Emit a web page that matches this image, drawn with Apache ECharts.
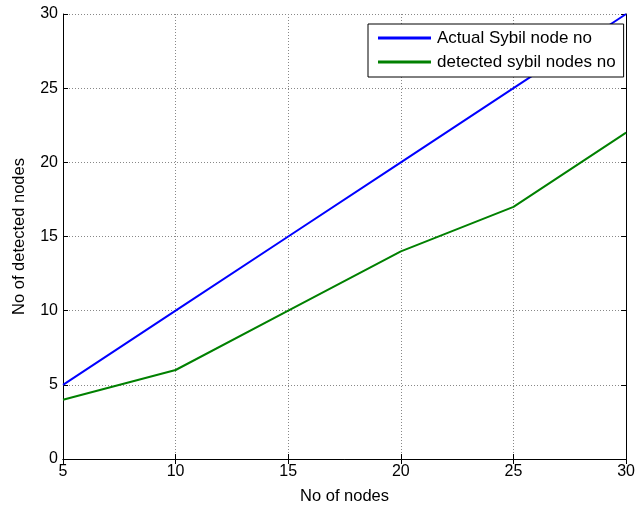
<!DOCTYPE html>
<html><head><meta charset="utf-8">
<script src="https://cdn.jsdelivr.net/npm/echarts@6/dist/echarts.min.js"></script>
<style>html,body{margin:0;padding:0;background:#fff}#c{width:638px;height:510px}</style>
</head><body><div id="c"></div>
<script>
const xValues = [5, 10, 15, 20, 25, 30];
const actualSybil = [5, 10, 15, 20, 25, 30];
const detectedSybil = [4, 6, 10, 14, 17, 22];
const seriesNames = ['Actual Sybil node no', 'detected sybil nodes no'];
const font = 'Liberation Sans, Arial, sans-serif';
const chart = echarts.init(document.getElementById('c'));
const mk = (a) => a.map((v, k) => [xValues[k], v]);
const gridLine = {show: true, lineStyle: {color: '#888', type: [1, 2], width: 1}};
chart.setOption({
  animation: false,
  grid: {left: 63, top: 14, right: 7, bottom: 49},
  legend: {
    orient: 'vertical', left: 368, top: 24,
    backgroundColor: '#fff', borderColor: '#000', borderWidth: 1,
    padding: [4, 8, 5, 10], itemGap: 4, itemWidth: 53, itemHeight: 3,
    icon: 'rect',
    textStyle: {fontFamily: font, fontSize: 17, color: '#000', lineHeight: 20, padding: [0, 0, 0, 1]},
    data: seriesNames
  },
  xAxis: [{
    type: 'value', min: 5, max: 30, interval: 5,
    name: 'No of nodes', nameLocation: 'middle', nameGap: 29,
    nameTextStyle: {fontFamily: font, fontSize: 16.5, color: '#000'},
    axisLine: {lineStyle: {color: '#000', width: 1}},
    axisTick: {inside: true, length: 5, lineStyle: {color: '#000'}},
    axisLabel: {fontFamily: font, fontSize: 16, color: '#000', margin: 5},
    splitLine: gridLine
  }, {
    type: 'value', min: 5, max: 30, interval: 5, position: 'top',
    axisLine: {show: true, lineStyle: {color: '#000', width: 1}},
    axisTick: {inside: true, length: 5, lineStyle: {color: '#000'}},
    axisLabel: {show: false}, splitLine: {show: false}
  }],
  yAxis: [{
    type: 'value', min: 0, max: 30, interval: 5,
    name: 'No of detected nodes', nameLocation: 'middle', nameGap: 35,
    nameTextStyle: {fontFamily: font, fontSize: 16.5, color: '#000'},
    axisLine: {show: true, lineStyle: {color: '#000', width: 1}},
    axisTick: {show: true, inside: true, length: 5, lineStyle: {color: '#000'}},
    axisLabel: {fontFamily: font, fontSize: 16, color: '#000', margin: 5},
    splitLine: gridLine
  }, {
    type: 'value', min: 0, max: 30, interval: 5, position: 'right',
    axisLine: {show: true, lineStyle: {color: '#000', width: 1}},
    axisTick: {show: true, inside: true, length: 5, lineStyle: {color: '#000'}},
    axisLabel: {show: false}, splitLine: {show: false}
  }],
  series: [{
    name: seriesNames[0], type: 'line', data: mk(actualSybil),
    symbol: 'none', lineStyle: {color: '#0000ff', width: 2}, itemStyle: {color: '#0000ff'}
  }, {
    name: seriesNames[1], type: 'line', data: mk(detectedSybil),
    symbol: 'none', lineStyle: {color: '#008000', width: 2}, itemStyle: {color: '#008000'}
  }]
});
</script></body></html>
